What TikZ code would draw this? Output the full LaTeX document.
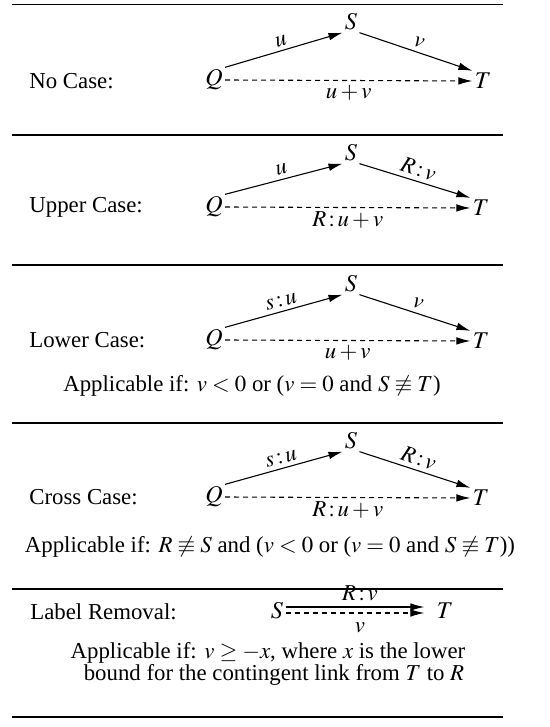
\documentclass[tikz,border=0pt,11pt]{standalone}
\usepackage{mathptmx}
\usepackage{fontspec}
\setmainfont{Liberation Serif}
\usetikzlibrary{arrows.meta}
\begin{document}
\begin{tikzpicture}[x=0.5pt,y=-0.5pt,
  every node/.style={font=\fontsize{11.4}{14}\selectfont},
  lbl/.style={anchor=west,inner sep=0pt},
  vtx/.style={inner sep=1pt,font=\fontsize{12}{14}\selectfont},
  arr/.style={-{Latex[length=7pt,width=3.8pt]},line width=0.55pt},
  dsh/.style={arr,dash pattern=on 2.5pt off 2pt},
  sep/.style={line width=0.6pt},
  elab/.style={inner sep=2pt},
  txt/.style={inner sep=0pt}]
\useasboundingbox (0,0) rectangle (550,727);
% rules
\coordinate (r1a) at (12,4.5);   \coordinate (r1b) at (503,4.5);
\coordinate (r2a) at (12,135);   \coordinate (r2b) at (503,135);
\coordinate (r3a) at (12,265);   \coordinate (r3b) at (503,265);
\coordinate (r4a) at (12,423);   \coordinate (r4b) at (503,423);
\coordinate (r5a) at (12,589);   \coordinate (r5b) at (503,589);
\coordinate (r6a) at (12,717);   \coordinate (r6b) at (503,717);
\foreach \i in {1,...,6} {\draw[sep] (r\i a) -- (r\i b);}

% Section 1: No Case
\node[lbl] (L1) at (29,81) {No Case:};
\node[vtx] (Q1) at (214,80) {$Q$};
\node[vtx] (S1) at (351,22) {$S$};
\node[vtx] (T1) at (483,81) {$T$};
\draw[arr] (Q1.north east) -- node[midway,above,sloped,elab] {$u$} (S1.south west);
\draw[arr] (S1.south east) -- node[midway,above,sloped,elab] {$v$} (T1.north west);
\draw[dsh] (Q1.east) -- node[midway,below,elab] {$u+v$} (T1.west);

% Section 2: Upper Case
\node[lbl] (L2) at (29,207) {Upper Case:};
\node[vtx] (Q2) at (214,207) {$Q$};
\node[vtx] (S2) at (351,153) {$S$};
\node[vtx] (T2) at (481,208) {$T$};
\draw[arr] (Q2.north east) -- node[midway,above,sloped,elab] {$u$} (S2.south west);
\draw[arr] (S2.south east) -- node[midway,above,sloped,elab] {$R\,{:}\,v$} (T2.north west);
\draw[dsh] (Q2.east) -- node[midway,below,elab] {$R\,{:}\,u+v$} (T2.west);

% Section 3: Lower Case
\node[lbl] (L3) at (29,340) {Lower Case:};
\node[vtx] (Q3) at (214,340) {$Q$};
\node[vtx] (S3) at (351,284) {$S$};
\node[vtx] (T3) at (481,341) {$T$};
\draw[arr] (Q3.north east) -- node[midway,above,sloped,elab] {$s\,{:}\,u$} (S3.south west);
\draw[arr] (S3.south east) -- node[midway,above,sloped,elab] {$v$} (T3.north west);
\draw[dsh] (Q3.east) -- node[midway,below,elab] {$u+v$} (T3.west);
\node[txt] (A3) at (252,386) {Applicable if: $v<0$ or ($v=0$ and $S\not\equiv T$)};

% Section 4: Cross Case
\node[lbl] (L4) at (29,497) {Cross Case:};
\node[vtx] (Q4) at (214,497) {$Q$};
\node[vtx] (S4) at (351,441) {$S$};
\node[vtx] (T4) at (481,498) {$T$};
\draw[arr] (Q4.north east) -- node[midway,above,sloped,elab] {$s\,{:}\,u$} (S4.south west);
\draw[arr] (S4.south east) -- node[midway,above,sloped,elab] {$R\,{:}\,v$} (T4.north west);
\draw[dsh] (Q4.east) -- node[midway,below,elab] {$R\,{:}\,u+v$} (T4.west);
\node[txt] (A4) at (270,547) {Applicable if: $R\not\equiv S$ and ($v<0$ or ($v=0$ and $S\not\equiv T$))};

% Section 5: Label Removal
\node[lbl] (L5) at (30,612) {Label Removal:};
\node[vtx] (S5) at (277,611) {$S$};
\node[vtx] (T5) at (445,611) {$T$};
\draw[arr,shorten >=5pt] ([yshift=2pt]S5.east) -- node[midway,above,inner sep=3pt] {$R\,{:}\,v$} ([yshift=2pt]T5.west);
\draw[dsh,shorten >=5pt] ([yshift=-1pt]S5.east) -- node[midway,below,inner sep=4.5pt] {$v$} ([yshift=-1pt]T5.west);
\node[txt] (A5a) at (268,653) {Applicable if: $v\geq -x$, where $x$ is the lower};
\node[txt] (A5b) at (274,675) {bound for the contingent link from $T$ to $R$};
\end{tikzpicture}
\end{document}
